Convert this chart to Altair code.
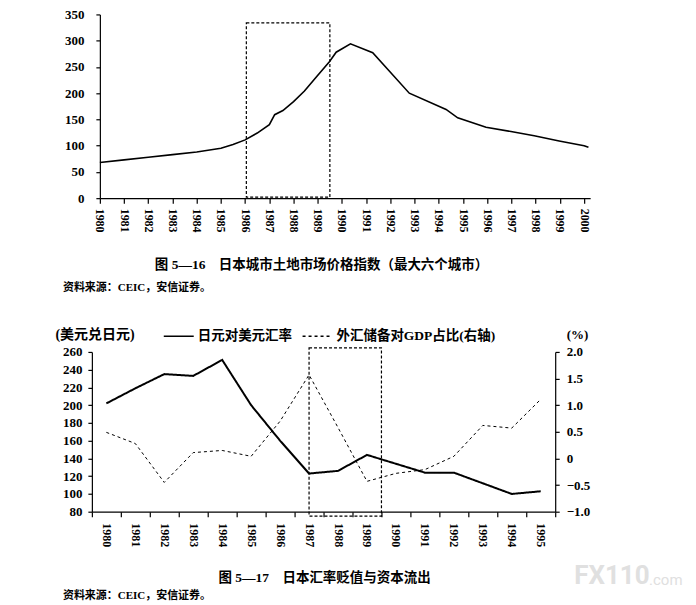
import altair as alt
import pandas as pd

SERIF = "Liberation Serif"
CJK = "Noto Sans CJK SC"
MIX = "Liberation Serif, Noto Sans CJK SC"

# ---------------- Figure 5-16 data ----------------
land_years = [1980, 1981, 1982, 1983, 1984, 1985, 1985.5, 1986, 1986.5, 1987,
              1987.22, 1987.56, 1988, 1988.45, 1988.94, 1989.48, 1989.76, 1990.35,
              1991.27, 1992.78, 1994.3, 1994.78, 1995.95, 1996.98, 1997.94,
              1998.97, 2000, 2000.18]
land_index = [68, 73, 78, 83, 88, 95, 102, 111, 124, 140,
              159, 167, 184, 204, 231, 260, 278, 294,
              277, 200, 169, 153, 135, 127, 119,
              109, 100, 97]
land_box_x = [1986.05, 1989.5]
land_box_y = [2, 334]
land_xticks = list(range(1980, 2001))
land_yticks = list(range(0, 351, 50))
cap1 = "图 5—16　日本城市土地市场价格指数（最大六个城市）"
src_text = "资料来源：CEIC，安信证券。"

# ---------------- Figure 5-17 data ----------------
fx_years = list(range(1980, 1996))
jpy_usd = [202, 219, 235, 233, 251, 200, 160, 123, 126, 144, 134, 124, 124, 112, 100, 103]
reserve_gdp = [0.49, 0.28, -0.45, 0.11, 0.15, 0.04, 0.70, 1.57, 0.58, -0.43,
               -0.28, -0.21, 0.04, 0.62, 0.57, 1.11]
series_names = ["日元对美元汇率", "外汇储备对GDP占比(右轴)"]
fx_box_x = [1987, 1989.5]
fx_box_y = [75, 264.5]
cap2 = "图 5—17　日本汇率贬值与资本流出"
left_title = "(美元兑日元)"
right_title = "(%)"
left_ticks = list(range(80, 261, 20))
right_ticks = [-1.0, -0.5, 0, 0.5, 1.0, 1.5, 2.0]

# ======================= Chart 1 =========================
W1, H1 = 491, 184
df1 = pd.DataFrame({"year": land_years, "value": land_index})
box1 = pd.DataFrame({"x": [land_box_x[0]], "x2": [land_box_x[1]],
                     "y": [land_box_y[0]], "y2": [land_box_y[1]]})

x1_scale = alt.Scale(domain=[1980, 2000.25], nice=False, zero=False)
y1_scale = alt.Scale(domain=[0, 350], nice=False)
x1_axis = alt.Axis(values=land_xticks, format="d", title=None,
                   labelAngle=90, labelAlign="left", labelBaseline="middle",
                   labelFontSize=12, tickSize=5, labelPadding=5, labelOverlap=False)
y1_axis = alt.Axis(values=land_yticks, title=None, labelFontSize=13, tickSize=4,
                   labelPadding=12, labelOverlap=False)

line1 = alt.Chart(df1).mark_line(color="black", strokeWidth=1.6).encode(
    x=alt.X("year:Q", scale=x1_scale, axis=x1_axis),
    y=alt.Y("value:Q", scale=y1_scale, axis=y1_axis),
)
rect1 = alt.Chart(box1).mark_rect(fill=None, stroke="black", strokeWidth=1.2,
                                  strokeDash=[3, 2]).encode(
    x=alt.X("x:Q", scale=x1_scale, axis=x1_axis), x2="x2",
    y=alt.Y("y:Q", scale=y1_scale, axis=y1_axis), y2="y2",
)
cap1_m = alt.Chart(pd.DataFrame({"t": [cap1]})).mark_text(
    font=MIX, fontSize=13.5, fontWeight="bold", align="center", baseline="middle",
    color="black").encode(text="t:N", x=alt.value(222), y=alt.value(251))
src1_m = alt.Chart(pd.DataFrame({"t": [src_text]})).mark_text(
    font=MIX, fontSize=11, fontWeight="bold", align="left", baseline="middle",
    color="black").encode(text="t:N", x=alt.value(-37), y=alt.value(274))

chart1 = alt.layer(line1, rect1, cap1_m, src1_m).properties(width=W1, height=H1)

# ======================= Chart 2 =========================
W2, H2 = 456, 160
df_rate = pd.DataFrame({"year": fx_years, "v": jpy_usd, "series": series_names[0]})
df_res = pd.DataFrame({"year": fx_years, "v": reserve_gdp, "series": series_names[1]})
box2 = pd.DataFrame({"x": [fx_box_x[0]], "x2": [fx_box_x[1]],
                     "y": [fx_box_y[0]], "y2": [fx_box_y[1]]})

xband = alt.Scale(type="band", domain=fx_years, range=[-8, W2],
                  paddingInner=0, paddingOuter=0)
legend = alt.Legend(orient="none", legendX=63, legendY=-32, direction="horizontal",
                    title=None, symbolType="stroke", symbolSize=900,
                    symbolStrokeWidth=1.6, labelFont=MIX, labelFontSize=13.5,
                    labelFontWeight="bold", labelOffset=3, columnPadding=6,
                    labelColor="black", padding=0, labelLimit=400)
color = alt.Color("series:N", scale=alt.Scale(domain=series_names, range=["black", "black"]),
                  legend=legend)
dash = alt.StrokeDash("series:N", scale=alt.Scale(domain=series_names, range=[[1, 0], [3, 3]]),
                      legend=legend)

rate_line = alt.Chart(df_rate).mark_line(strokeWidth=2).encode(
    x=alt.X("year:O", scale=xband,
            axis=alt.Axis(title=None, labelAngle=90, labelAlign="left",
                          labelBaseline="middle", labelFontSize=12, tickBand="extent",
                          tickSize=5, labelPadding=6, labelOverlap=False)),
    y=alt.Y("v:Q", scale=alt.Scale(domain=[80, 260], nice=False, zero=False),
            axis=alt.Axis(orient="left", values=left_ticks, offset=8, labelFontSize=13,
                          tickSize=4, labelPadding=6, title=left_title, titleAngle=0,
                          titleAlign="left", titleBaseline="middle", titleX=-37,
                          titleY=-17, titleFont=MIX, titleFontSize=14,
                          titleFontWeight="bold", titleColor="black",
                          labelOverlap=False)),
    color=color, strokeDash=dash,
)
res_line = alt.Chart(df_res).mark_line(strokeWidth=1).encode(
    x=alt.X("year:O", scale=xband, axis=None),
    y=alt.Y("v:Q", scale=alt.Scale(domain=[-1, 2], nice=False, zero=False),
            axis=alt.Axis(orient="right", values=right_ticks,
                          labelExpr="datum.value == 0 ? '0' : format(datum.value, '.1f')",
                          labelFontSize=13, tickSize=4, labelPadding=7,
                          title=right_title, titleAngle=0, titleAlign="left",
                          titleBaseline="middle", titleX=11, titleY=-17,
                          titleFont=SERIF, titleFontSize=13, titleFontWeight="bold",
                          titleColor="black", labelOverlap=False)),
    color=color, strokeDash=dash,
)
rect2 = alt.Chart(box2).mark_rect(fill=None, stroke="black", strokeWidth=1.2,
                                  strokeDash=[3, 2]).encode(
    x=alt.X("x:Q", scale=alt.Scale(domain=[1979.5, 1995.5], range=[-8, W2], nice=False,
                                    zero=False), axis=None),
    x2="x2",
    y=alt.Y("y:Q", scale=alt.Scale(domain=[80, 260], nice=False, zero=False), axis=None),
    y2="y2",
)
cap2_m = alt.Chart(pd.DataFrame({"t": [cap2]})).mark_text(
    font=MIX, fontSize=13.5, fontWeight="bold", align="center", baseline="middle",
    color="black").encode(text="t:N", x=alt.value(225), y=alt.value(226))
src2_m = alt.Chart(pd.DataFrame({"t": [src_text]})).mark_text(
    font=MIX, fontSize=11, fontWeight="bold", align="left", baseline="middle",
    color="black").encode(text="t:N", x=alt.value(-37), y=alt.value(244))
wm1 = alt.Chart(pd.DataFrame({"t": ["FX110"]})).mark_text(
    font="Roboto", fontSize=26, fontWeight="bold", align="left", baseline="middle",
    color="#e0e0e0").encode(text="t:N", x=alt.value(475), y=alt.value(224))
wm2 = alt.Chart(pd.DataFrame({"t": [".com"]})).mark_text(
    font="Roboto", fontSize=15, align="left", baseline="middle",
    color="#e0e0e0").encode(text="t:N", x=alt.value(550), y=alt.value(228))

chart2 = alt.layer(rate_line, res_line, rect2, cap2_m, src2_m, wm1, wm2).resolve_scale(
    x="independent", y="independent").properties(width=W2, height=H2)

chart = alt.vconcat(chart1, chart2, spacing=27).resolve_legend(
    color="independent", strokeDash="independent"
).properties(
    padding={"left": 47, "top": 0, "right": 5, "bottom": 5}
).configure_view(stroke=None).configure_axis(
    grid=False, domainColor="black", tickColor="black", labelColor="black",
    labelFont=SERIF, labelFontWeight="bold", domainWidth=1.2, tickWidth=1.2,
)

chart.save("out.html", embed_options={"renderer": "svg", "actions": False})
